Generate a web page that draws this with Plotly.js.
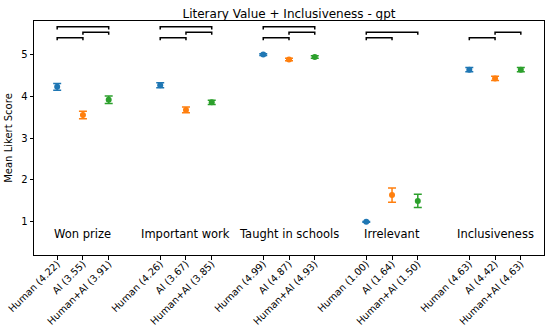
<!DOCTYPE html>
<html><head><meta charset="utf-8">
<script src="https://cdn.plot.ly/plotly-3.0.1.min.js"></script>
<style>html,body{margin:0;padding:0;background:#fff}#chart{width:550px;height:327px}</style>
</head><body><div id="chart"></div>
<script>
// ---- data ----
const categories = ["Won prize", "Important work", "Taught in schools", "Irrelevant", "Inclusiveness"];
const sources = ["Human", "AI", "Human+AI"];
const colors = ["#1f77b4", "#ff7f0e", "#2ca02c"];
const humanMean = [4.22, 4.26, 4.99, 1.00, 4.63];
const aiMean = [3.55, 3.67, 4.87, 1.64, 4.42];
const hybridMean = [3.91, 3.85, 4.93, 1.50, 4.63];
const humanErr = [0.08, 0.06, 0.02, 0.01, 0.05];
const aiErr = [0.09, 0.07, 0.03, 0.17, 0.05];
const hybridErr = [0.09, 0.05, 0.03, 0.16, 0.05];
// significance brackets: category index, from source, to source, level
const bracketCat = [0, 0, 0, 1, 1, 1, 2, 2, 2, 3, 3, 4, 4];
const bracketFrom = [0, 1, 0, 0, 1, 0, 0, 1, 0, 0, 0, 0, 1];
const bracketTo = [1, 2, 2, 1, 2, 2, 1, 2, 2, 1, 2, 1, 2];
const bracketLevel = [5.39, 5.52, 5.65, 5.39, 5.52, 5.65, 5.39, 5.52, 5.65, 5.39, 5.52, 5.39, 5.52];

const means = [humanMean, aiMean, hybridMean];
const errs = [humanErr, aiErr, hybridErr];
const pos = (c, s) => c * 4 + s;

const traces = [];
for (let s = 0; s < 3; s++) {
  traces.push({
    type: "scatter", mode: "markers",
    x: categories.map((_, c) => pos(c, s)),
    y: means[s],
    error_y: {type: "data", array: errs[s], visible: true, color: colors[s], thickness: 1.5, width: 4},
    marker: {color: colors[s], size: 6},
    showlegend: false, hoverinfo: "skip"
  });
}
const bx = [], by = [];
const tick = 0.06;
for (let i = 0; i < bracketCat.length; i++) {
  const a = pos(bracketCat[i], bracketFrom[i]), b = pos(bracketCat[i], bracketTo[i]);
  const h = bracketLevel[i];
  bx.push(a, a, b, b, null);
  by.push(h - tick, h, h, h - tick, null);
}
traces.push({type: "scatter", mode: "lines", x: bx, y: by,
  line: {color: "black", width: 1.5}, showlegend: false, hoverinfo: "skip"});

const tickvals = [], ticktext = [];
for (let c = 0; c < categories.length; c++) {
  for (let s = 0; s < 3; s++) {
    tickvals.push(pos(c, s));
    ticktext.push(sources[s] + " (" + means[s][c].toFixed(2) + ")");
  }
}
const annotations = categories.map((cat, c) => ({
  x: pos(c, 1), y: 0.7, xref: "x", yref: "y", text: cat, showarrow: false,
  font: {size: 11.5, color: "black"}, xanchor: "center", yanchor: "middle"
}));

const layout = {
  width: 550, height: 327,
  margin: {l: 34, r: 6, t: 21, b: 72},
  paper_bgcolor: "white", plot_bgcolor: "white",
  font: {family: "DejaVu Sans", color: "black", size: 10},
  title: {text: "Literary Value + Inclusiveness - gpt", font: {size: 12, color: "black"},
    x: 0.5 , xref: "paper", y: 1, yref: "paper", yanchor: "bottom", pad: {b: 3}},
  xaxis: {range: [-0.9, 18.9], tickvals: tickvals, ticktext: ticktext, tickangle: -45,
    showgrid: false, zeroline: false, showline: true, mirror: true, linecolor: "black", linewidth: 1,
    ticks: "outside", ticklen: 3.5, tickcolor: "black", tickfont: {size: 9.8}, ticklabelstandoff: -5},
  yaxis: {range: [0.21, 5.79], tickvals: [1, 2, 3, 4, 5], showgrid: false, zeroline: false,
    showline: true, mirror: true, linecolor: "black", linewidth: 1,
    ticks: "outside", ticklen: 3.5, tickcolor: "black", tickfont: {size: 10},
    title: {text: "Mean Likert Score", font: {size: 10}, standoff: 6}},
  annotations: annotations
};
Plotly.newPlot("chart", traces, layout, {staticPlot: true, displayModeBar: false});
</script></body></html>
